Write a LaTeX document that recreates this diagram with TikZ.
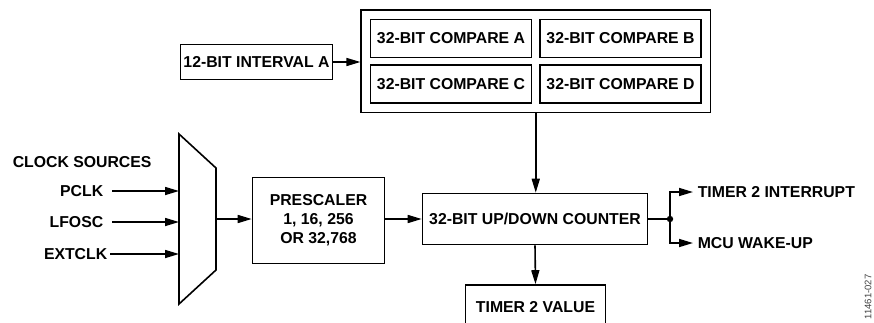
\documentclass[tikz,border=0pt]{standalone}
\usepackage{fontspec}
\setmainfont{Liberation Sans}
\usetikzlibrary{arrows.meta,positioning,fit}

\begin{document}
\begin{tikzpicture}[x=1pt, y=-1pt, line width=1.6pt,
      font=\fontsize{15.8}{19}\selectfont\bfseries,
      >={Triangle[length=14pt,width=8pt]},
      box/.style={draw, rectangle, inner sep=2pt, align=center},
      lbl/.style={inner sep=0pt}]
   \useasboundingbox (0,0) rectangle (874,322);

   % compare registers
   \node[box, name=cmpa, minimum width=161pt, minimum height=38pt] at (451,38.5) {32-BIT COMPARE A};
   \node[box, name=cmpb, minimum width=161pt, minimum height=38pt] at (620.5,38.5) {32-BIT COMPARE B};
   \node[box, name=cmpc, minimum width=161pt, minimum height=38pt] at (451,84) {32-BIT COMPARE C};
   \node[box, name=cmpd, minimum width=161pt, minimum height=38pt] at (620.5,84) {32-BIT COMPARE D};
   \node[draw, name=cmp, fit=(cmpa)(cmpd), inner sep=8.5pt] {};
   \node[box, name=intv, minimum width=152pt, minimum height=35pt] at (256.5,62) {12-BIT INTERVAL A};

   % clock mux
   \draw (179,134) -- (216,168) -- (216,270) -- (179,304) -- cycle;
   \coordinate (muxin) at (179,219);
   \coordinate (muxout) at (216,219);

   \node[lbl, anchor=west, name=src] at (12,162) {CLOCK SOURCES};
   \node[lbl, anchor=east, name=pclk] at (104,191) {PCLK};
   \node[lbl, anchor=east, name=lfosc] at (104,222) {LFOSC};
   \node[lbl, anchor=east, name=extclk] at (108,254) {EXTCLK};

   \node[box, name=pre, minimum width=132pt, minimum height=86pt] at (318.5,220.5) {PRESCALER\\1, 16, 256\\OR 32,768};
   \node[box, name=cnt, minimum width=225pt, minimum height=51pt] at (535,219) {32-BIT UP/DOWN COUNTER};
   \node[box, name=val, minimum width=140pt, minimum height=44pt] at (535.5,307) {TIMER 2 VALUE};

   \coordinate (jn) at (670,219);
   \node[lbl, anchor=west, name=irq] at (697,192) {TIMER 2 INTERRUPT};
   \node[lbl, anchor=west, name=wake] at (697,243) {MCU WAKE-UP};

   \node[name=tag, rotate=90, text=black!75,
         font=\fontsize{9.5}{10}\selectfont\mdseries] at (868,297) {11461-027};

   \draw[->] (intv.east) -- (intv.east -| cmp.west);
   \draw[->] (cmp.south) -- (cmp.south |- cnt.north);
   \draw[->, shorten <=8pt] (pclk.east) -- (pclk.east -| muxin);
   \draw[->, shorten <=8pt] (lfosc.east) -- (lfosc.east -| muxin);
   \draw[->, shorten <=2pt] (extclk.east) -- (extclk.east -| muxin);
   \draw[->] (muxout) -- (muxout -| pre.west);
   \draw[->] (pre.east |- cnt.west) -- (cnt.west);
   \draw (cnt.east) -- (jn);
   \fill (jn) circle (3.2pt);
   \draw[->, shorten >=4pt] (jn) |- (irq.west);
   \draw[->, shorten >=4pt] (jn) |- (wake.west);
   \draw[->] (cnt.south) -- (val.north);
\end{tikzpicture}
\end{document}
